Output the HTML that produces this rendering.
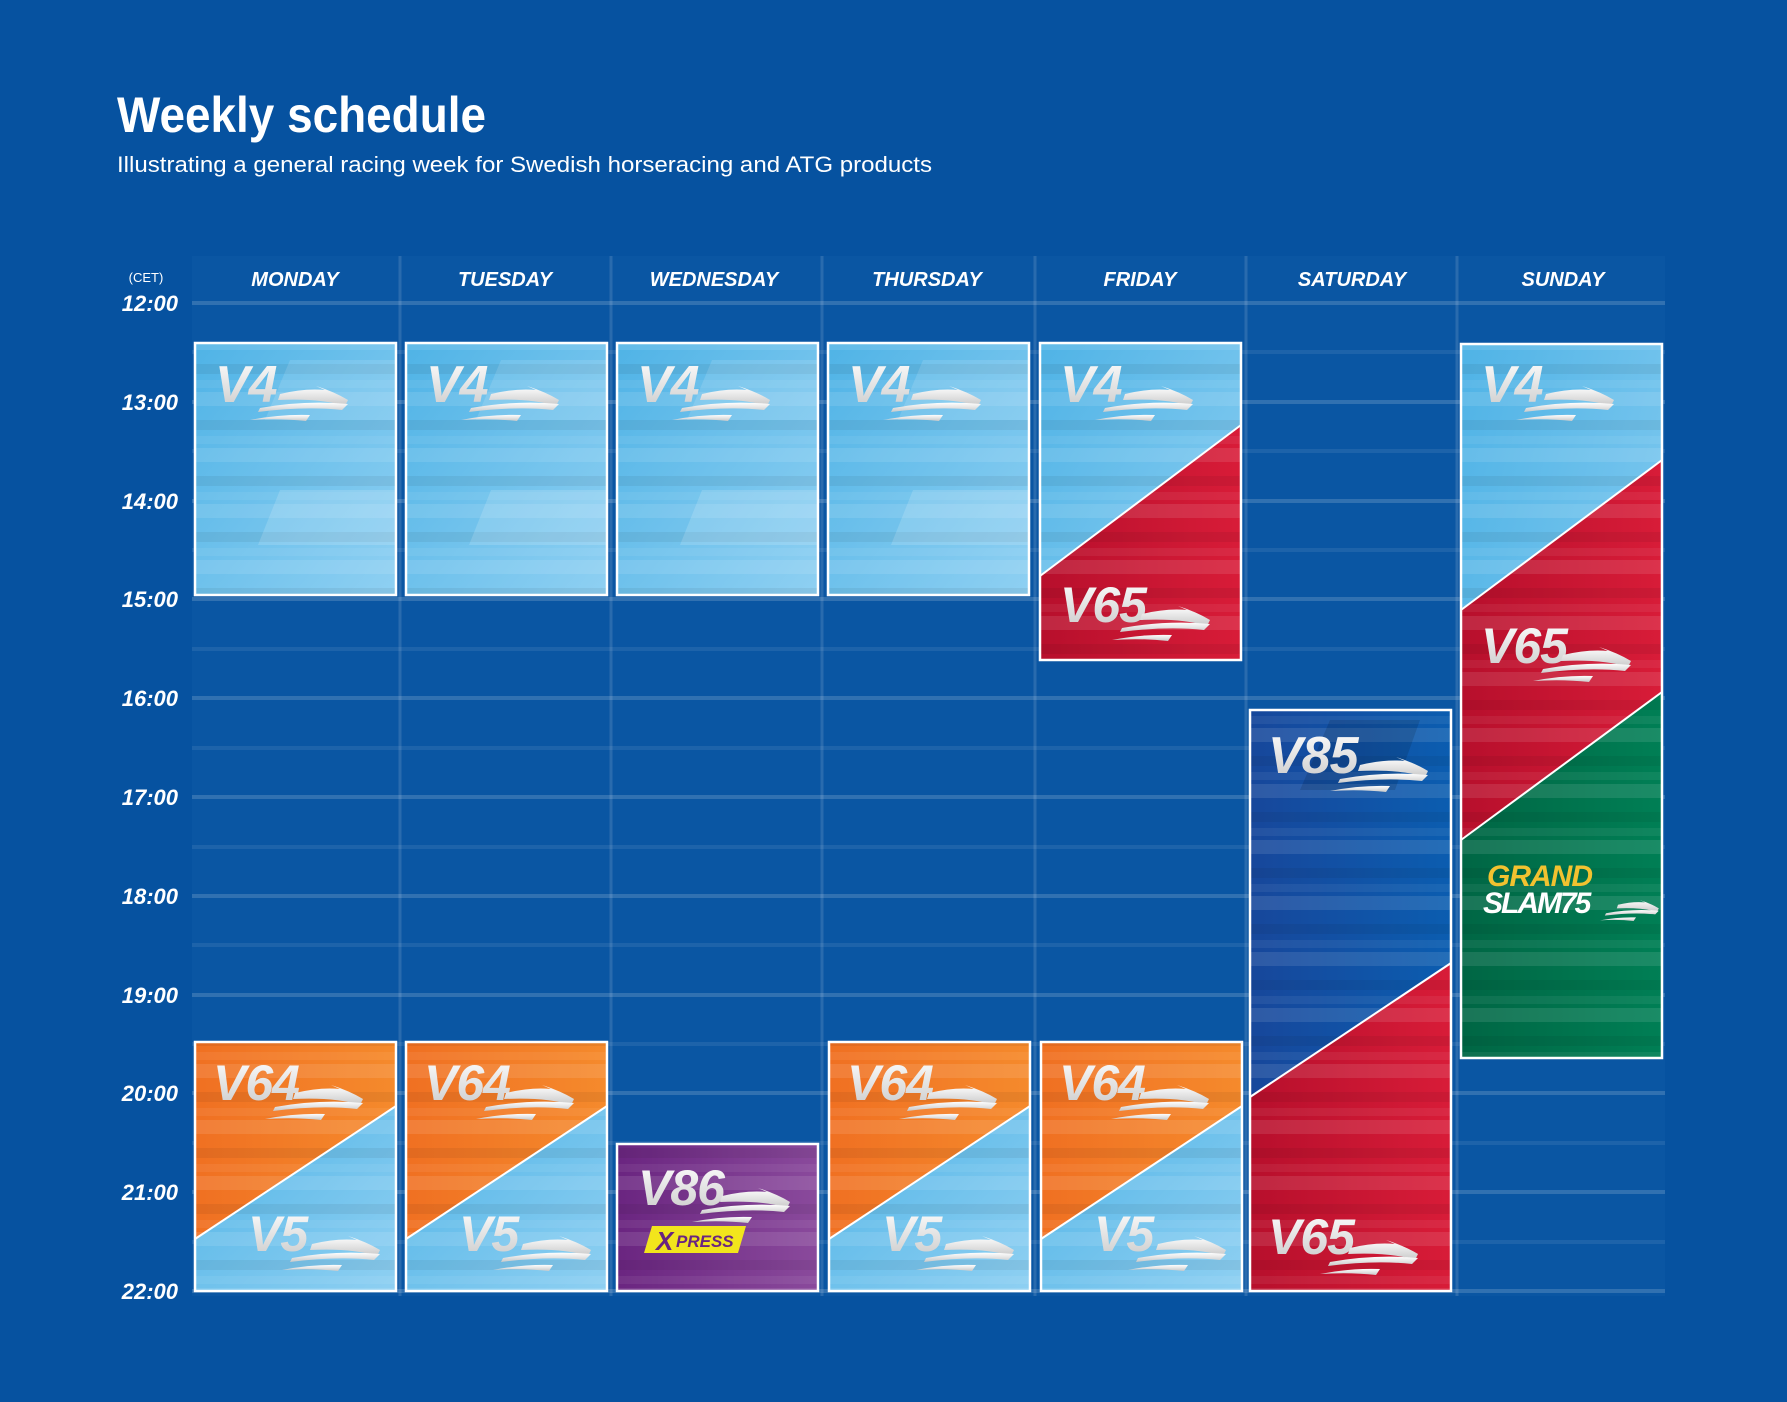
<!DOCTYPE html>
<html><head><meta charset="utf-8"><style>
html,body{margin:0;padding:0;background:#0652a0;}
svg{display:block}
.t{font-family:"Liberation Sans",sans-serif;}
</style></head><body>
<svg width="1787" height="1402" viewBox="0 0 1787 1402" xmlns="http://www.w3.org/2000/svg">
<defs>
<linearGradient id="gb" x1="0" y1="0" x2="1" y2="1"><stop offset="0" stop-color="#4fb3e6"/><stop offset="1" stop-color="#8fd0f2"/></linearGradient>
<linearGradient id="go" x1="0" y1="0" x2="1" y2="0"><stop offset="0" stop-color="#f07022"/><stop offset="1" stop-color="#f58a2c"/></linearGradient>
<linearGradient id="gr" x1="0" y1="0" x2="1" y2="0"><stop offset="0" stop-color="#b70f2c"/><stop offset="1" stop-color="#d81c38"/></linearGradient>
<linearGradient id="gd" x1="0" y1="0" x2="1" y2="0"><stop offset="0" stop-color="#17479b"/><stop offset="1" stop-color="#0b5db0"/></linearGradient>
<linearGradient id="gg" x1="0" y1="0" x2="1" y2="0"><stop offset="0" stop-color="#006644"/><stop offset="1" stop-color="#007f55"/></linearGradient>
<linearGradient id="gp" x1="0" y1="0" x2="1" y2="0"><stop offset="0" stop-color="#6a2580"/><stop offset="1" stop-color="#8a4a9c"/></linearGradient>
<linearGradient id="gt" x1="0" y1="0" x2="0" y2="1"><stop offset="0" stop-color="#ffffff"/><stop offset="1" stop-color="#c9c9c9"/></linearGradient>
<pattern id="st" width="400" height="56" patternUnits="userSpaceOnUse">
<rect x="0" y="0" width="400" height="14" fill="#fff" opacity="0.10"/>
<rect x="0" y="28" width="400" height="10" fill="#000" opacity="0.06"/>
<rect x="0" y="44" width="400" height="8" fill="#fff" opacity="0.06"/>
</pattern>
<g id="sw">
<path d="M30,8 Q55,2 75,4 L66,0 Q85,6 98,14 L95,20 Q70,12 28,14 Z" fill="url(#gt)"/>
<path d="M10,22 Q55,14 98,18 L92,24 Q55,20 8,26 Z" fill="url(#gt)"/>
<path d="M0,34 Q30,28 60,29 L56,35 Q30,32 0,34 Z" fill="url(#gt)"/>
</g>
</defs>
<rect width="1787" height="1402" fill="#0652a0"/>
<rect x="192" y="256" width="1473" height="1040" fill="#0a56a3"/>
<text class="t" x="117" y="132" font-size="50" font-weight="bold" fill="#fff" textLength="369" lengthAdjust="spacingAndGlyphs">Weekly schedule</text>
<text class="t" x="117" y="172" font-size="22" fill="#fff" textLength="815" lengthAdjust="spacingAndGlyphs">Illustrating a general racing week for Swedish horseracing and ATG products</text>
<g stroke="#ffffff" stroke-opacity="0.13" stroke-width="3">
<line x1="400" y1="256" x2="400" y2="1296"/><line x1="611" y1="256" x2="611" y2="1296"/><line x1="822" y1="256" x2="822" y2="1296"/><line x1="1035" y1="256" x2="1035" y2="1296"/><line x1="1246" y1="256" x2="1246" y2="1296"/><line x1="1457" y1="256" x2="1457" y2="1296"/>
</g>
<g stroke="#ffffff" stroke-width="4">
<g stroke-opacity="0.16">
<line x1="192" y1="303" x2="1665" y2="303"/><line x1="192" y1="402" x2="1665" y2="402"/><line x1="192" y1="501" x2="1665" y2="501"/><line x1="192" y1="599" x2="1665" y2="599"/><line x1="192" y1="698" x2="1665" y2="698"/><line x1="192" y1="797" x2="1665" y2="797"/><line x1="192" y1="896" x2="1665" y2="896"/><line x1="192" y1="995" x2="1665" y2="995"/><line x1="192" y1="1093" x2="1665" y2="1093"/><line x1="192" y1="1192" x2="1665" y2="1192"/><line x1="192" y1="1291" x2="1665" y2="1291"/>
</g>
<g stroke-opacity="0.08">
<line x1="192" y1="352" x2="1665" y2="352"/><line x1="192" y1="451" x2="1665" y2="451"/><line x1="192" y1="550" x2="1665" y2="550"/><line x1="192" y1="649" x2="1665" y2="649"/><line x1="192" y1="748" x2="1665" y2="748"/><line x1="192" y1="847" x2="1665" y2="847"/><line x1="192" y1="945" x2="1665" y2="945"/><line x1="192" y1="1044" x2="1665" y2="1044"/><line x1="192" y1="1143" x2="1665" y2="1143"/><line x1="192" y1="1242" x2="1665" y2="1242"/>
</g>
</g>
<g class="t" fill="#fff" font-weight="bold" font-style="italic">
<text x="146" y="282" font-size="13" font-style="normal" font-weight="normal" text-anchor="middle">(CET)</text>
<g font-size="22" text-anchor="end">
<text x="178" y="311">12:00</text><text x="178" y="410">13:00</text><text x="178" y="509">14:00</text><text x="178" y="607">15:00</text><text x="178" y="706">16:00</text><text x="178" y="805">17:00</text><text x="178" y="904">18:00</text><text x="178" y="1003">19:00</text><text x="178" y="1101">20:00</text><text x="178" y="1200">21:00</text><text x="178" y="1299">22:00</text>
</g>
<g font-size="20" text-anchor="middle">
<text x="295" y="286">MONDAY</text><text x="505" y="286">TUESDAY</text><text x="714" y="286">WEDNESDAY</text><text x="927" y="286">THURSDAY</text><text x="1140" y="286">FRIDAY</text><text x="1352" y="286">SATURDAY</text><text x="1563" y="286">SUNDAY</text>
</g>
</g>

<g id="v4box">
<rect x="195" y="343" width="201" height="252" fill="url(#gb)"/>
<rect x="195" y="343" width="201" height="252" fill="url(#st)"/>
<polygon points="290,360 396,360 396,420 265,420" fill="#fff" opacity="0.12"/>
<polygon points="280,490 396,490 396,545 258,545" fill="#fff" opacity="0.15"/>
<rect x="195" y="343" width="201" height="252" fill="none" stroke="#fff" stroke-width="2.5"/>
<text class="t" x="215" y="402" font-size="52" font-weight="bold" font-style="italic" fill="url(#gt)" letter-spacing="-1">V4</text>
<use href="#sw" x="250" y="386"/>
</g>
<use href="#v4box" x="211"/><use href="#v4box" x="422"/><use href="#v4box" x="633"/>

<rect x="1040" y="343" width="201" height="317" fill="url(#gb)"/>
<rect x="1040" y="343" width="201" height="317" fill="url(#st)"/>
<polygon points="1241,425 1241,660 1040,660 1040,576" fill="url(#gr)"/>
<polygon points="1241,425 1241,660 1040,660 1040,576" fill="url(#st)"/>
<line x1="1241" y1="425" x2="1040" y2="576" stroke="#fff" stroke-width="2"/>
<rect x="1040" y="343" width="201" height="317" fill="none" stroke="#fff" stroke-width="2.5"/>
<text class="t" x="1060" y="402" font-size="52" font-weight="bold" font-style="italic" fill="url(#gt)" letter-spacing="-1">V4</text>
<use href="#sw" x="1095" y="386"/>
<text class="t" x="1060" y="622" font-size="50" font-weight="bold" font-style="italic" fill="url(#gt)" letter-spacing="-1">V65</text>
<use href="#sw" x="1112" y="606"/>

<rect x="1461" y="344" width="201" height="714" fill="url(#gb)"/>
<polygon points="1662,460 1662,692 1461,840 1461,610" fill="url(#gr)"/>
<polygon points="1662,692 1662,1058 1461,1058 1461,840" fill="url(#gg)"/>
<rect x="1461" y="344" width="201" height="714" fill="url(#st)"/>
<line x1="1662" y1="460" x2="1461" y2="610" stroke="#fff" stroke-width="2"/>
<line x1="1662" y1="692" x2="1461" y2="840" stroke="#fff" stroke-width="2"/>
<rect x="1461" y="344" width="201" height="714" fill="none" stroke="#fff" stroke-width="2.5"/>
<text class="t" x="1481" y="402" font-size="52" font-weight="bold" font-style="italic" fill="url(#gt)" letter-spacing="-1">V4</text>
<use href="#sw" x="1516" y="386"/>
<text class="t" x="1481" y="663" font-size="50" font-weight="bold" font-style="italic" fill="url(#gt)" letter-spacing="-1">V65</text>
<use href="#sw" x="1533" y="647"/>
<text class="t" x="1487" y="886" font-size="30" font-weight="bold" font-style="italic" fill="#f2c230" letter-spacing="-1">GRAND</text>
<text class="t" x="1483" y="913" font-size="30" font-weight="bold" font-style="italic" fill="#fff" letter-spacing="-2">SLAM75</text>
<g transform="translate(1600,900) scale(0.6)"><use href="#sw"/></g>

<rect x="1250" y="710" width="201" height="581" fill="url(#gd)"/>
<polygon points="1451,963 1451,1291 1250,1291 1250,1097" fill="url(#gr)"/>
<rect x="1250" y="710" width="201" height="581" fill="url(#st)"/>
<polygon points="1330,720 1420,720 1395,790 1300,790" fill="#000" opacity="0.12"/>
<line x1="1451" y1="963" x2="1250" y2="1097" stroke="#fff" stroke-width="2"/>
<rect x="1250" y="710" width="201" height="581" fill="none" stroke="#fff" stroke-width="2.5"/>
<text class="t" x="1268" y="773" font-size="52" font-weight="bold" font-style="italic" fill="url(#gt)" letter-spacing="-1">V85</text>
<use href="#sw" x="1330" y="757"/>
<text class="t" x="1268" y="1254" font-size="50" font-weight="bold" font-style="italic" fill="url(#gt)" letter-spacing="-1">V65</text>
<use href="#sw" x="1320" y="1240"/>

<g id="v64">
<rect x="195" y="1042" width="201" height="249" fill="url(#go)"/>
<polygon points="396,1106 396,1291 195,1291 195,1239" fill="url(#gb)"/>
<rect x="195" y="1042" width="201" height="249" fill="url(#st)"/>
<line x1="396" y1="1106" x2="195" y2="1239" stroke="#fff" stroke-width="2"/>
<rect x="195" y="1042" width="201" height="249" fill="none" stroke="#fff" stroke-width="2.5"/>
<text class="t" x="213" y="1100" font-size="50" font-weight="bold" font-style="italic" fill="url(#gt)" letter-spacing="-1">V64</text>
<use href="#sw" x="265" y="1085"/>
<text class="t" x="248" y="1251" font-size="50" font-weight="bold" font-style="italic" fill="url(#gt)" letter-spacing="-1">V5</text>
<use href="#sw" x="282" y="1236"/>
</g>
<use href="#v64" x="211"/><use href="#v64" x="634"/><use href="#v64" x="846"/>

<rect x="617" y="1144" width="201" height="147" fill="url(#gp)"/>
<rect x="617" y="1144" width="201" height="147" fill="url(#st)"/>
<rect x="617" y="1144" width="201" height="147" fill="none" stroke="#fff" stroke-width="2.5"/>
<text class="t" x="638" y="1205" font-size="50" font-weight="bold" font-style="italic" fill="url(#gt)" letter-spacing="-1">V86</text>
<use href="#sw" x="692" y="1188"/>
<polygon points="652,1226 746,1226 738,1253 644,1253" fill="#f2e51c"/>
<text class="t" x="656" y="1250" font-size="26" font-weight="bold" font-style="italic" fill="#6a2580">X</text>
<text class="t" x="676" y="1247" font-size="17" font-weight="bold" font-style="italic" fill="#6a2580">PRESS</text>
</svg>
</body></html>
